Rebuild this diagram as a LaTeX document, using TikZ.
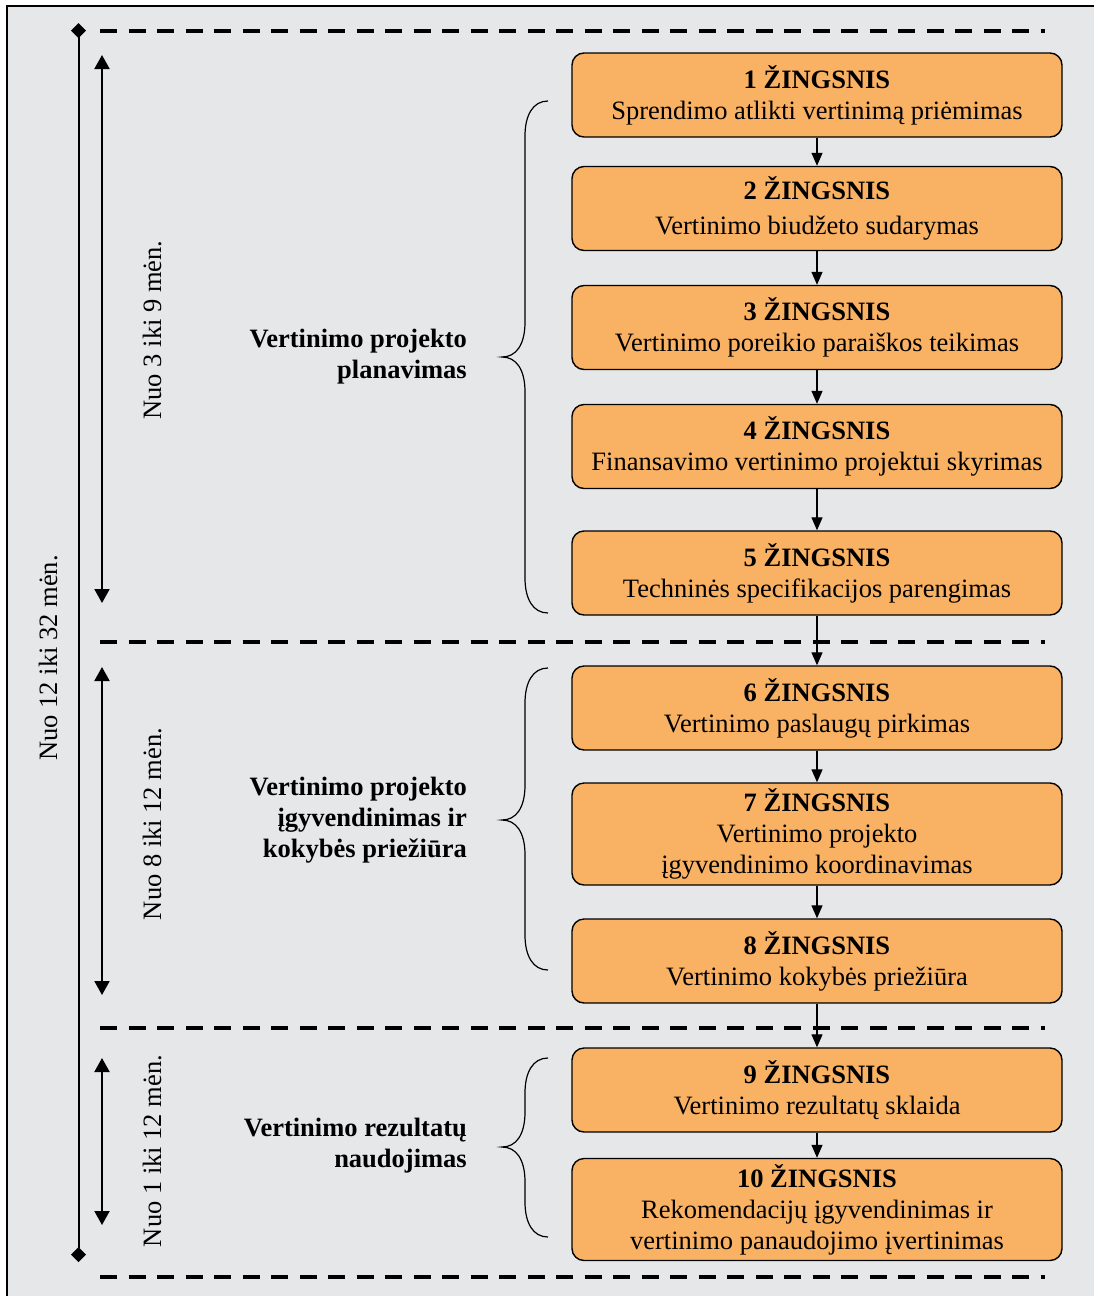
\documentclass[tikz,border=0pt]{standalone}
\usepackage{fontspec}
\setmainfont{Liberation Serif}
\usetikzlibrary{arrows.meta}
\definecolor{panel}{HTML}{E6E7E8}
\definecolor{stepfill}{HTML}{F9B163}
% curly brace opening to the right: top, middle, bottom
\newcommand\phasebrace[3]{%
  \draw[brace] (548,#1) .. controls (533,#1) and (525,#1+14) .. (525,#1+35)
    -- (525,#2-35) .. controls (525,#2-12) and (516,#2) .. (502,#2)
    .. controls (516,#2) and (525,#2+12) .. (525,#2+35)
    -- (525,#3-35) .. controls (525,#3-14) and (533,#3) .. (548,#3);}
\begin{document}
\begin{tikzpicture}[x=1pt,y=-1pt,
  txt/.style={font=\fontsize{26.5}{31}\selectfont},
  stepbox/.style={txt, draw=black, line width=1.4pt, fill=stepfill,
    rounded corners=12pt, minimum width=490pt, align=center, inner sep=0pt},
  two/.style={minimum height=84pt},
  three/.style={minimum height=102pt},
  flow/.style={-{Triangle[width=11pt,length=13pt]}, line width=1.3pt},
  span/.style={{Triangle[width=15pt,length=14pt]}-{Triangle[width=15pt,length=14pt]}, line width=2pt},
  total/.style={{Diamond[width=15pt,length=15pt]}-{Diamond[width=15pt,length=15pt]}, line width=2pt},
  sep/.style={line width=3.5pt, dash pattern=on 17pt off 11.5pt},
  brace/.style={line width=1.2pt},
  phase/.style={font=\fontsize{26.5}{31}\selectfont\bfseries, align=right,
    anchor=east, inner sep=0pt},
  dur/.style={txt, rotate=90, inner sep=0pt}
]
\useasboundingbox (0,0) rectangle (1094,1296);

% panel
\fill[panel] (7,6) rectangle (1094,1296);
\draw[line width=1.5pt] (7,1296) -- (7,6) -- (1094,6);

% phase separators
\draw[sep] (100,31) -- (1045,31);
\draw[sep] (100,642) -- (1045,642);
\draw[sep] (100,1028) -- (1045,1028);
\draw[sep] (100,1277) -- (1045,1277);

% overall duration
\coordinate (lt) at (78.5,23);
\coordinate (lb) at (78.5,1262);
\draw[total] (lt) -- (lb);
\node[dur] (d0) at (48,658) {Nuo 12 iki 32 mėn.};

% phase durations
\coordinate (s1t) at (102,55);   \coordinate (s1b) at (102,603);
\coordinate (s2t) at (102,667);  \coordinate (s2b) at (102,995);
\coordinate (s3t) at (102,1058); \coordinate (s3b) at (102,1225);
\draw[span] (s1t) -- (s1b);
\draw[span] (s2t) -- (s2b);
\draw[span] (s3t) -- (s3b);
\node[dur] (d1) at (152,330) {Nuo 3 iki 9 mėn.};
\node[dur] (d2) at (152,824) {Nuo 8 iki 12 mėn.};
\node[dur] (d3) at (152,1151) {Nuo 1 iki 12 mėn.};

% phase names and braces
\node[phase] (p1) at (467,357) {Vertinimo projekto\\planavimas};
\node[phase] (p2) at (467,820) {Vertinimo projekto\\įgyvendinimas ir\\kokybės priežiūra};
\node[phase] (p3) at (467,1146) {Vertinimo rezultatų\\naudojimas};
\phasebrace{101}{357}{613}
\phasebrace{668}{820}{970}
\phasebrace{1058}{1147}{1237}

% steps
\node[stepbox,two] (b1) at (817,95) {\textbf{1 ŽINGSNIS}\\Sprendimo atlikti vertinimą priėmimas};
\node[stepbox,two] (b2) at (817,208.5) {\textbf{2 ŽINGSNIS}\\[4pt]Vertinimo biudžeto sudarymas};
\node[stepbox,two] (b3) at (817,327.5) {\textbf{3 ŽINGSNIS}\\Vertinimo poreikio paraiškos teikimas};
\node[stepbox,two] (b4) at (817,446.5) {\textbf{4 ŽINGSNIS}\\Finansavimo vertinimo projektui skyrimas};
\node[stepbox,two] (b5) at (817,573) {\textbf{5 ŽINGSNIS}\\Techninės specifikacijos parengimas};
\node[stepbox,two] (b6) at (817,708) {\textbf{6 ŽINGSNIS}\\Vertinimo paslaugų pirkimas};
\node[stepbox,three] (b7) at (817,834) {\textbf{7 ŽINGSNIS}\\Vertinimo projekto\\įgyvendinimo koordinavimas};
\node[stepbox,two] (b8) at (817,961) {\textbf{8 ŽINGSNIS}\\Vertinimo kokybės priežiūra};
\node[stepbox,two] (b9) at (817,1090) {\textbf{9 ŽINGSNIS}\\Vertinimo rezultatų sklaida};
\node[stepbox,three] (b10) at (817,1209.5) {\textbf{10 ŽINGSNIS}\\Rekomendacijų įgyvendinimas ir\\vertinimo panaudojimo įvertinimas};

\foreach \a/\b in {b1/b2,b2/b3,b3/b4,b4/b5,b5/b6,b6/b7,b7/b8,b8/b9,b9/b10}
  \draw[flow] (\a) -- (\b);
\end{tikzpicture}
\end{document}
